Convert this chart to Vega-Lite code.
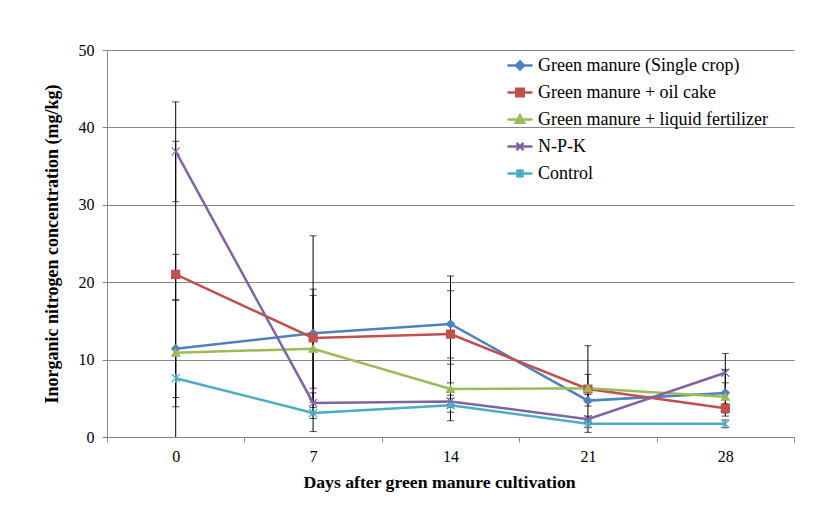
{
  "$schema": "https://vega.github.io/schema/vega-lite/v6.json",
  "width": 687,
  "height": 387,
  "autosize": "none",
  "padding": {"left": 107, "top": 50, "right": 26, "bottom": 77},
  "background": "white",
  "config": {"view": {"stroke": null}, "font": "Liberation Serif"},
  "data": {
    "values": [
      {"series": "Green manure (Single crop)", "day": 0, "val": 11.4, "lo": 5.1, "hi": 17.7},
      {"series": "Green manure (Single crop)", "day": 7, "val": 13.4, "lo": 0.7, "hi": 26.0},
      {"series": "Green manure (Single crop)", "day": 14, "val": 14.6, "lo": 9.4, "hi": 20.8},
      {"series": "Green manure (Single crop)", "day": 21, "val": 4.7, "lo": 4.0, "hi": 5.5},
      {"series": "Green manure (Single crop)", "day": 28, "val": 5.7, "lo": 2.7, "hi": 8.7},
      {"series": "Green manure + oil cake", "day": 0, "val": 21.0, "lo": 17.7, "hi": 23.6},
      {"series": "Green manure + oil cake", "day": 7, "val": 12.8, "lo": 6.3, "hi": 19.1},
      {"series": "Green manure + oil cake", "day": 14, "val": 13.3, "lo": 7.0, "hi": 18.9},
      {"series": "Green manure + oil cake", "day": 21, "val": 6.2, "lo": 0.6, "hi": 11.8},
      {"series": "Green manure + oil cake", "day": 28, "val": 3.7, "lo": 3.1, "hi": 4.3},
      {"series": "Green manure + liquid fertilizer", "day": 0, "val": 10.9, "lo": -16.4, "hi": 38.2},
      {"series": "Green manure + liquid fertilizer", "day": 7, "val": 11.4, "lo": 4.5, "hi": 18.3},
      {"series": "Green manure + liquid fertilizer", "day": 14, "val": 6.2, "lo": 2.1, "hi": 10.2},
      {"series": "Green manure + liquid fertilizer", "day": 21, "val": 6.3, "lo": 4.5, "hi": 8.1},
      {"series": "Green manure + liquid fertilizer", "day": 28, "val": 5.2, "lo": 3.4, "hi": 7.0},
      {"series": "N-P-K", "day": 0, "val": 36.9, "lo": 30.4, "hi": 43.3},
      {"series": "N-P-K", "day": 7, "val": 4.4, "lo": 3.1, "hi": 5.7},
      {"series": "N-P-K", "day": 14, "val": 4.6, "lo": 3.8, "hi": 5.4},
      {"series": "N-P-K", "day": 21, "val": 2.3, "lo": 1.9, "hi": 2.7},
      {"series": "N-P-K", "day": 28, "val": 8.3, "lo": 5.8, "hi": 10.8},
      {"series": "Control", "day": 0, "val": 7.6, "lo": 3.9, "hi": 11.3},
      {"series": "Control", "day": 7, "val": 3.1, "lo": 2.4, "hi": 3.8},
      {"series": "Control", "day": 14, "val": 4.1, "lo": 3.2, "hi": 5.0},
      {"series": "Control", "day": 21, "val": 1.7, "lo": 1.2, "hi": 2.2},
      {"series": "Control", "day": 28, "val": 1.7, "lo": 1.2, "hi": 2.2}
    ]
  },
  "encoding": {
    "x": {
      "field": "day",
      "type": "ordinal",
      "scale": {"type": "band", "paddingInner": 0, "paddingOuter": 0},
      "axis": {
        "title": "Days after green manure cultivation",
        "titleFont": "Liberation Serif",
        "titleFontSize": 17.7,
        "titleFontWeight": "bold",
        "titleColor": "black",
        "titlePadding": 9,
        "titleX": 332,
        "labelFont": "Liberation Serif",
        "labelFontSize": 16,
        "labelColor": "black",
        "labelAngle": 0,
        "labelPadding": 6,
        "tickBand": "extent",
        "tickSize": 5,
        "tickColor": "#878787",
        "domainColor": "#878787",
        "grid": false
      }
    }
  },
  "resolve": {"scale": {"color": "independent"}, "legend": {"color": "independent"}},
  "layer": [
    {
      "mark": {"type": "rule", "color": "black", "strokeWidth": 1, "clip": true},
      "encoding": {
        "y": {"field": "lo", "type": "quantitative"},
        "y2": {"field": "hi"}
      }
    },
    {
      "mark": {"type": "tick", "color": "black", "size": 7, "thickness": 1, "clip": true, "orient": "horizontal"},
      "encoding": {"y": {"field": "lo", "type": "quantitative"}}
    },
    {
      "mark": {"type": "tick", "color": "black", "size": 7, "thickness": 1, "clip": true, "orient": "horizontal"},
      "encoding": {"y": {"field": "hi", "type": "quantitative"}}
    },
    {
      "mark": {"type": "line", "strokeWidth": 2.5},
      "encoding": {
        "y": {
          "field": "val",
          "type": "quantitative",
          "scale": {"domain": [0, 50], "nice": false},
          "axis": {
            "title": "Inorganic nitrogen concentration (mg/kg)",
            "titleFont": "Liberation Serif",
            "titleFontSize": 18,
            "titleFontWeight": "bold",
            "titleColor": "black",
            "titlePadding": 17,
            "labelFont": "Liberation Serif",
            "labelFontSize": 16,
            "labelColor": "black",
            "labelPadding": 8,
            "values": [0, 10, 20, 30, 40, 50],
            "tickSize": 5,
            "tickColor": "#878787",
            "domainColor": "#878787",
            "grid": true,
            "gridColor": "#878787",
            "gridWidth": 1
          }
        },
        "color": {
          "field": "series",
          "type": "nominal",
          "scale": {
            "domain": ["Green manure (Single crop)", "Green manure + oil cake", "Green manure + liquid fertilizer", "N-P-K", "Control"],
            "range": ["#4F81BD", "#C0504D", "#9BBB59", "#8064A2", "#4BACC6"]
          },
          "legend": {
            "orient": "none",
            "legendX": 399,
            "legendY": 1.5,
            "title": null,
            "labelFont": "Liberation Serif",
            "labelFontSize": 18,
            "labelColor": "black",
            "labelLimit": 400,
            "labelOffset": 4,
            "symbolSize": 625,
            "symbolStrokeWidth": 2.5,
            "rowPadding": 4,
            "encode": {
              "symbols": {
                "update": {
                  "shape": {"signal": "datum.value === 'Green manure (Single crop)' ? 'M-1,0H1M0,-0.32L0.32,0L0,0.32L-0.32,0Z' : datum.value === 'Green manure + oil cake' ? 'M-1,0H1M-0.3,-0.3H0.3V0.3H-0.3Z' : datum.value === 'Green manure + liquid fertilizer' ? 'M-1,0H1M0,-0.34L0.34,0.26H-0.34Z' : datum.value === 'N-P-K' ? 'M-1,0H1M-0.28,-0.28L0.28,0.28M-0.28,0.28L0.28,-0.28' : 'M-1,0H1M-0.28,-0.28L0.28,0.28M-0.28,0.28L0.28,-0.28M0,-0.36V0.36'"},
                  "fill": {"signal": "datum.value === 'Green manure (Single crop)' ? '#4F81BD' : datum.value === 'Green manure + oil cake' ? '#C0504D' : datum.value === 'Green manure + liquid fertilizer' ? '#9BBB59' : datum.value === 'N-P-K' ? '#8064A2' : '#4BACC6'"},
                  "stroke": {"signal": "datum.value === 'Green manure (Single crop)' ? '#4F81BD' : datum.value === 'Green manure + oil cake' ? '#C0504D' : datum.value === 'Green manure + liquid fertilizer' ? '#9BBB59' : datum.value === 'N-P-K' ? '#8064A2' : '#4BACC6'"},
                  "strokeWidth": {"value": 2.5},
                  "size": {"value": 625},
                  "opacity": {"value": 1},
                  "fillOpacity": {"value": 1}
                }
              }
            }
          }
        },
        "order": {"field": "day", "type": "quantitative"}
      }
    },
    {
      "mark": {"type": "point", "filled": true, "size": 64, "strokeWidth": 1.2, "opacity": 1},
      "encoding": {
        "y": {"field": "val", "type": "quantitative"},
        "color": {
          "field": "series",
          "type": "nominal",
          "legend": null,
          "scale": {
            "domain": ["Green manure (Single crop)", "Green manure + oil cake", "Green manure + liquid fertilizer", "N-P-K", "Control"],
            "range": ["#4F81BD", "#C0504D", "#9BBB59", "#8064A2", "#4BACC6"]
          }
        },
        "stroke": {
          "field": "series",
          "type": "nominal",
          "legend": null,
          "scale": {
            "domain": ["Green manure (Single crop)", "Green manure + oil cake", "Green manure + liquid fertilizer", "N-P-K", "Control"],
            "range": ["#4F81BD", "#C0504D", "#9BBB59", "#8064A2", "#4BACC6"]
          }
        },
        "shape": {
          "field": "series",
          "type": "nominal",
          "legend": null,
          "scale": {
            "domain": ["Green manure (Single crop)", "Green manure + oil cake", "Green manure + liquid fertilizer", "N-P-K", "Control"],
            "range": ["diamond", "square", "triangle-up", "M-1,-1L1,1M-1,1L1,-1", "M-1,-1L1,1M-1,1L1,-1M0,-1.2L0,1.2"]
          }
        }
      }
    }
  ]
}
